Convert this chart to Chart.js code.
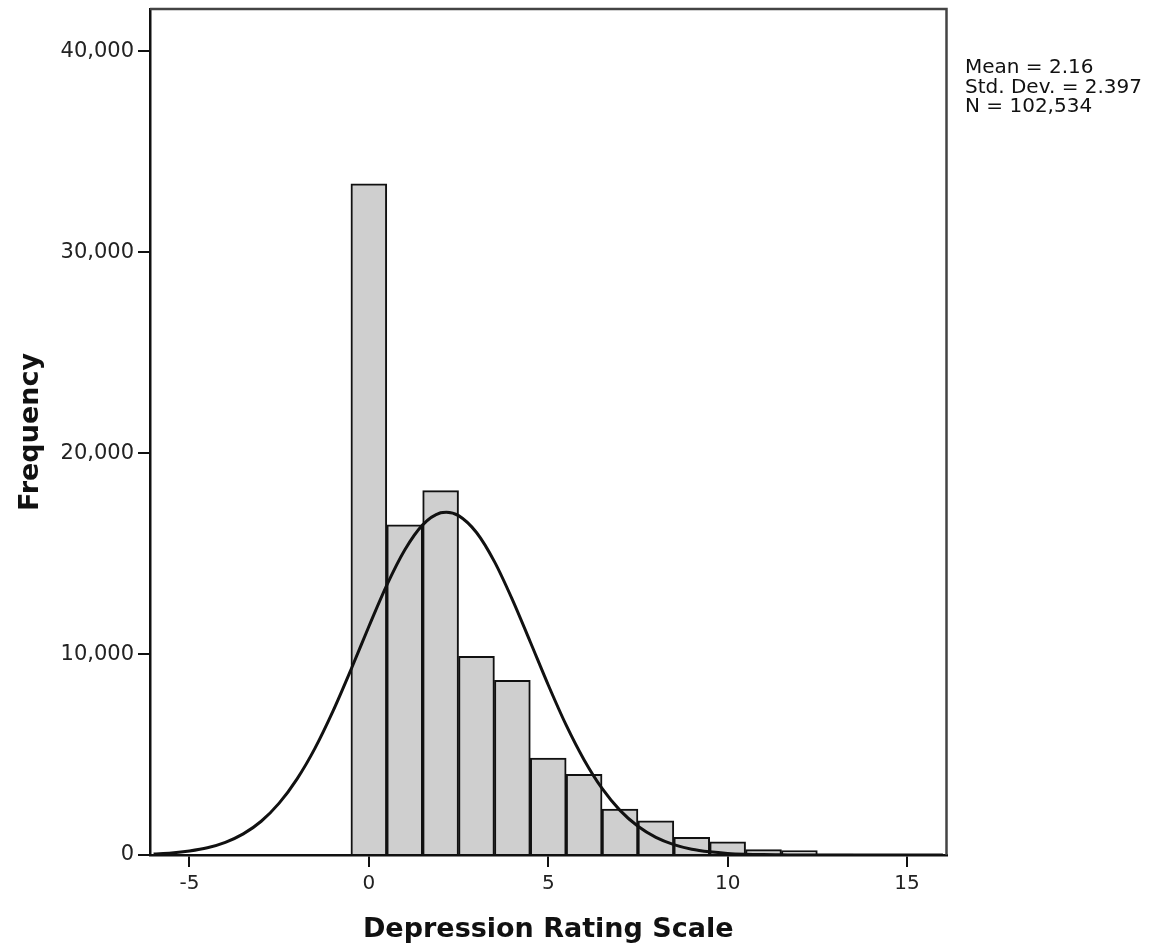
<!DOCTYPE html>
<html>
<head>
<meta charset="utf-8">
<title>Depression Rating Scale</title>
<script src="https://cdn.jsdelivr.net/npm/chart.js@4.4.1/dist/chart.umd.min.js"></script>
<style>
  html, body { margin: 0; padding: 0; background: #fff; }
</style>
</head>
<body>
<canvas id="histChart" width="1158" height="952"></canvas>
<script>
// histogram bins, width 1, centred on the scale points
const binCenters = [0, 1, 2, 3, 4, 5, 6, 7, 8, 9, 10, 11, 12, 13, 14];
const frequencies = [33400, 16430, 18130, 9890, 8690, 4820, 4020, 2290, 1700, 880, 660, 270, 220, 50, 30];

// fitted normal curve
const curveX = [-6, -5.5, -5, -4.5, -4, -3.5, -3, -2.5, -2, -1.5, -1, -0.5, 0, 0.5, 1, 1.5, 2, 2.16, 2.5, 3, 3.5, 4, 4.5, 5, 5.5, 6, 6.5, 7, 7.5, 8, 8.5, 9, 9.5, 10, 10.5, 11, 11.5, 12, 13, 14, 15, 16];
const curveY = [50, 100, 200, 360, 630, 1050, 1680, 2580, 3790, 5320, 7160, 9220, 11370, 13430, 15180, 16430, 17030, 17060, 16890, 16050, 14600, 12710, 10600, 8460, 6460, 4730, 3310, 2220, 1430, 880, 520, 290, 160, 80, 40, 20, 10, 0, 0, 0, 0, 0];

const xTicks = [-5, 0, 5, 10, 15];
const yTicks = [0, 10000, 20000, 30000, 40000];
const statLines = ['Mean = 2.16', 'Std. Dev. = 2.397', 'N = 102,534'];

const FONT = 'DejaVu Sans';

// box round the plot + summary text on the right
const framePlugin = {
  id: 'frame',
  afterDraw(chart) {
    const { ctx, chartArea: a } = chart;
    ctx.save();
    ctx.strokeStyle = '#444';
    ctx.lineWidth = 2.5;
    ctx.beginPath();
    ctx.moveTo(a.left, a.top);
    ctx.lineTo(a.right, a.top);
    ctx.lineTo(a.right, a.bottom);
    ctx.stroke();

    ctx.fillStyle = '#111';
    ctx.font = '20px "' + FONT + '"';
    ctx.textBaseline = 'alphabetic';
    ctx.textAlign = 'left';
    statLines.forEach((t, i) => ctx.fillText(t, 965, 73 + i * 19.5));
    ctx.restore();
  }
};

const axisGrid = {
  display: true,
  drawOnChartArea: false,
  drawTicks: true,
  tickLength: 12,
  color: '#111',
  lineWidth: 2,
  offset: false
};
const axisBorder = { display: true, color: '#111', width: 2.5 };

// no extra room for half tick labels at the ends
function noEdgePadding(s) {
  s.paddingTop = 0;
  s.paddingBottom = 0;
  s.paddingLeft = 0;
  s.paddingRight = 0;
}

new Chart(document.getElementById('histChart'), {
  type: 'bar',
  data: {
    datasets: [
      {
        type: 'line',
        label: 'Normal',
        data: curveX.map((x, i) => ({ x: x, y: curveY[i] })),
        borderColor: '#111',
        borderWidth: 3,
        pointRadius: 0,
        fill: false,
        cubicInterpolationMode: 'monotone',
        order: 0
      },
      {
        type: 'bar',
        label: 'Frequency',
        data: binCenters.map((x, i) => ({ x: x, y: frequencies[i] })),
        backgroundColor: '#cfcfcf',
        borderColor: '#111',
        borderWidth: 2,
        barPercentage: 1,
        categoryPercentage: 1,
        order: 1
      }
    ]
  },
  options: {
    responsive: false,
    animation: false,
    events: [],
    layout: { padding: { top: 9, right: 211.5, bottom: 0, left: 0 } },
    plugins: {
      legend: { display: false },
      tooltip: { enabled: false }
    },
    scales: {
      x: {
        type: 'linear',
        min: -6.1,
        max: 16.1,
        offset: false,
        grid: axisGrid,
        border: axisBorder,
        afterBuildTicks: s => { s.ticks = xTicks.map(v => ({ value: v })); },
        afterFit: s => { s.height = 97; noEdgePadding(s); },
        ticks: {
          color: '#222',
          font: { family: FONT, size: 20 },
          padding: 5,
          maxRotation: 0,
          autoSkip: false,
          callback: v => String(v)
        },
        title: {
          display: true,
          text: 'Depression Rating Scale',
          color: '#111',
          font: { family: FONT, size: 27, weight: 'bold' },
          padding: { top: 0, bottom: 6 }
        }
      },
      y: {
        type: 'linear',
        min: 0,
        max: 42100,
        grid: axisGrid,
        border: axisBorder,
        afterBuildTicks: s => { s.ticks = yTicks.map(v => ({ value: v })); },
        afterFit: s => { s.width = 150; noEdgePadding(s); },
        ticks: {
          color: '#222',
          font: { family: FONT, size: 21 },
          padding: 4,
          callback: v => v.toLocaleString('en-US')
        },
        title: {
          display: true,
          text: 'Frequency',
          color: '#111',
          font: { family: FONT, size: 27, weight: 'bold' },
          padding: { top: 15, bottom: 0 }
        }
      }
    }
  },
  plugins: [framePlugin]
});
</script>
</body>
</html>
